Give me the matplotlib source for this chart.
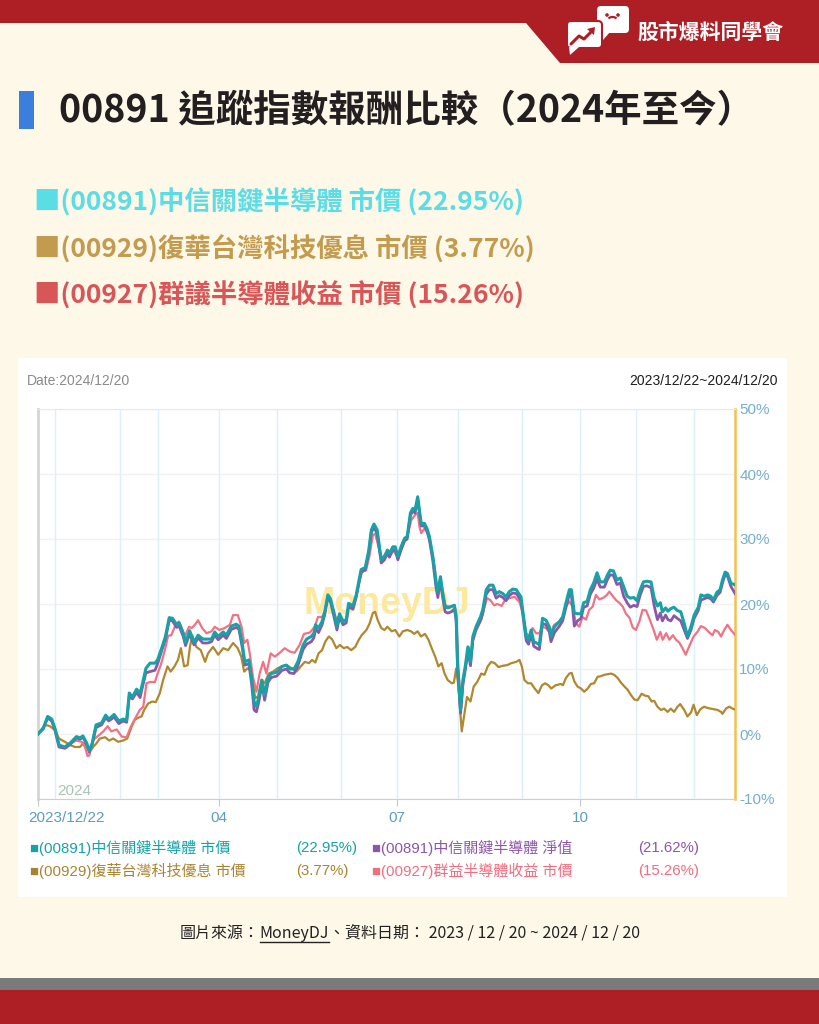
import matplotlib
matplotlib.use("Agg")
import matplotlib.pyplot as plt
from matplotlib.patches import Rectangle, Polygon, FancyBboxPatch, Circle, Arc
from matplotlib.transforms import ScaledTranslation

W, H = 819, 1024
CJK = ["Noto Sans CJK TC", "DejaVu Sans"]
LAT = ["Liberation Sans", "Noto Sans CJK TC"]

BG = "#FDF8E8"
RED = "#AD1F25"

# ---- data: (trading day index, return %) ----
teal_pts = [
    (0, 0.0), (1.8, 0.9), (3.3, 2.7), (4.7, 2.3), (5.8, 0.9), (7.2, -1.7), (9.2, -2.0), (11, -1.4),
    (13.2, -0.4), (14.4, -0.6), (15.4, -0.3), (16.7, -1.4), (17.6, -2.6), (18.6, -1.4), (19.9, 1.4),
    (21.8, 1.7), (23.2, 2.9), (24.3, 2.3), (26.1, 3.0), (27.7, 2.0), (29.2, 2.3), (30.4, 2.1),
    (31.3, 6.3), (32.4, 5.7), (33.8, 6.9), (35, 6.3), (35.7, 7.5), (37, 10.1), (38.4, 10.9),
    (40.1, 10.9), (41, 11.4), (42.4, 13.2), (43.7, 15.0), (45, 17.9), (46.1, 17.8), (47.5, 16.9),
    (48.4, 17.1), (49.8, 15.5), (50.6, 14.0), (52, 15.9), (53.5, 14.1), (54.9, 15.2), (56.5, 14.6),
    (58.2, 14.6), (59.5, 14.6), (60.6, 15.7), (61.8, 15.0), (63.5, 15.7), (64.6, 15.2), (66.3, 16.6),
    (68, 16.9), (68.9, 16.6), (70, 14.0), (70.9, 11.1), (72.3, 11.4), (73.2, 8.8), (74.1, 5.0),
    (74.9, 4.2), (75.7, 5.7), (76.8, 8.3), (77.7, 6.0), (78.9, 8.7), (80, 9.3), (81.8, 9.5),
    (83.7, 10.4), (85.2, 10.6), (86.3, 10.0), (87.8, 10.0), (89.1, 11.1), (90.9, 13.7), (92.1, 14.6),
    (93.7, 15.0), (94.6, 15.5), (95.2, 16.8), (96.2, 16.3), (97.4, 17.3), (98.3, 18.8), (99.4, 21.4),
    (100.3, 20.8), (101.4, 18.8), (102.5, 16.5), (103.4, 18.5), (104.6, 17.3), (105.7, 17.6),
    (106.5, 20.1), (108, 19.7), (109.1, 21.4), (110.3, 24.2), (110.8, 25.3), (112.2, 25.6),
    (113.4, 28.2), (114.3, 31.4), (115.2, 32.3), (116.3, 31.4), (117.7, 26.8), (118.8, 27.3),
    (119.8, 28.3), (120.5, 27.8), (121.7, 28.8), (122.5, 28.8), (123.4, 27.3), (124.5, 28.8),
    (125.7, 30.1), (126.6, 30.4), (127.7, 34.0), (128.5, 34.7), (129.3, 34.5), (130.2, 36.5),
    (130.8, 34.5), (131.4, 32.4), (132.5, 32.4), (133.4, 31.6), (134.2, 30.4), (135.4, 27.3),
    (136.5, 23.2), (137.1, 21.9), (138, 24.2), (138.8, 21.6), (139.6, 19.6), (140.5, 19.4),
    (141.7, 19.6), (142.8, 19.8), (143.4, 18.0), (143.9, 10.4), (144.9, 3.7), (145.7, 8.3),
    (146.5, 10.4), (147.4, 13.4), (148.3, 11.1), (149.1, 15.0), (150.2, 16.5), (151.7, 18.0),
    (152.5, 19.1), (153.7, 22.2), (154.8, 22.9), (156, 22.9), (157.1, 21.6), (158.2, 21.9),
    (159.4, 21.6), (160.5, 21.1), (161.6, 21.9), (162.8, 22.3), (164, 22.2), (165.6, 21.1),
    (166.5, 18.0), (167.4, 15.0), (168.2, 14.5), (169.1, 16.0), (170, 14.2), (171.4, 13.9),
    (171.9, 13.7), (173, 17.8), (174.2, 17.5), (175.3, 16.5), (175.9, 15.0), (177.1, 16.5),
    (178.8, 17.3), (179.9, 18.0), (181, 20.1), (182.2, 22.2), (182.9, 22.2), (183.9, 18.6),
    (185, 18.5), (186.2, 18.5), (187.1, 20.2), (188.3, 20.4), (189.4, 22.2), (190.5, 23.2),
    (191.7, 24.8), (192.8, 23.4), (194.2, 23.4), (195.3, 24.5), (196.2, 25.2), (197.3, 25.1),
    (198.5, 23.7), (199.7, 24.0), (200.8, 22.7), (202, 21.2), (203.1, 20.9), (204.3, 21.0),
    (205.4, 20.5), (206.5, 22.2), (207.6, 23.4), (208.8, 23.5), (210.2, 23.4), (211.3, 20.9),
    (212.4, 19.7), (213.4, 20.2), (214.1, 18.8), (215.2, 19.4), (216, 18.9), (217, 19.3),
    (218.1, 19.5), (219.2, 19.0), (220.4, 18.8), (221.6, 17.0), (222.7, 15.0), (223.9, 16.5),
    (225, 18.3), (226.4, 19.5), (227.3, 21.4), (228.4, 21.2), (229.6, 21.4), (230.7, 21.2),
    (231.6, 20.6), (232.8, 21.8), (233.9, 22.2), (234.7, 23.7), (235.6, 24.9), (236.4, 24.7),
    (237.6, 23.2), (239, 22.95),
]

purple_pts = [
    (0, 0.0), (1.8, 0.8), (3.3, 2.5), (4.7, 2.0), (5.8, 0.6), (7.2, -2.0), (9.2, -2.2), (11, -1.6),
    (13.2, -0.6), (14.4, -0.8), (15.4, -0.5), (16.7, -1.6), (17.6, -2.8), (18.6, -1.6), (19.9, 1.0),
    (21.8, 1.4), (23.2, 2.5), (24.3, 2.0), (26.1, 2.6), (27.7, 1.6), (29.2, 2.0), (30.4, 1.8),
    (31.3, 5.8), (32.4, 5.4), (33.8, 6.4), (35, 5.6), (35.7, 7.0), (37, 9.4), (38.4, 9.6),
    (40.1, 9.8), (41, 10.8), (42.4, 12.8), (43.7, 14.6), (45, 17.5), (46.1, 17.4), (47.5, 16.4),
    (48.4, 16.6), (49.8, 15.0), (50.6, 13.6), (52, 15.4), (53.5, 13.7), (54.9, 14.8), (56.5, 14.0),
    (58.2, 14.0), (59.5, 14.2), (60.6, 15.2), (61.8, 14.5), (63.5, 15.2), (64.6, 14.7), (66.3, 16.1),
    (68, 16.4), (68.9, 16.1), (70, 13.4), (70.9, 10.6), (72.3, 10.8), (73.2, 7.9), (74.1, 3.7),
    (74.9, 3.4), (75.7, 4.9), (76.8, 7.6), (77.7, 5.2), (78.9, 8.0), (80, 8.7), (81.8, 8.9),
    (83.7, 9.8), (85.2, 10.0), (86.3, 9.4), (87.8, 9.3), (89.1, 10.5), (90.9, 13.0), (92.1, 13.8),
    (93.7, 14.2), (94.6, 14.8), (95.2, 16.2), (96.2, 15.6), (97.4, 16.8), (98.3, 18.3), (99.4, 21.0),
    (100.3, 20.3), (101.4, 18.2), (102.5, 16.0), (103.4, 18.0), (104.6, 16.8), (105.7, 17.1),
    (106.5, 19.6), (108, 19.2), (109.1, 21.0), (110.3, 23.8), (110.8, 24.9), (112.2, 25.2),
    (113.4, 27.8), (114.3, 31.0), (115.2, 31.8), (116.3, 30.8), (117.7, 26.3), (118.8, 26.8),
    (119.8, 27.8), (120.5, 27.2), (121.7, 28.3), (122.5, 28.3), (123.4, 26.8), (124.5, 28.3),
    (125.7, 29.7), (126.6, 30.0), (127.7, 33.6), (128.5, 34.3), (129.3, 34.0), (130.2, 36.0),
    (130.8, 34.0), (131.4, 32.0), (132.5, 32.0), (133.4, 31.2), (134.2, 29.9), (135.4, 26.6),
    (136.5, 22.5), (137.1, 21.0), (138, 23.6), (138.8, 20.9), (139.6, 18.8), (140.5, 18.6),
    (141.7, 18.8), (142.8, 19.2), (143.4, 17.4), (143.9, 9.8), (144.9, 3.2), (145.7, 7.6),
    (146.5, 9.8), (147.4, 12.8), (148.3, 10.5), (149.1, 14.4), (150.2, 16.0), (151.7, 17.4),
    (152.5, 18.5), (153.7, 21.5), (154.8, 22.2), (156, 22.2), (157.1, 20.9), (158.2, 21.3),
    (159.4, 21.0), (160.5, 20.5), (161.6, 21.3), (162.8, 21.7), (164, 21.6), (165.6, 20.5),
    (166.5, 17.4), (167.4, 14.4), (168.2, 13.8), (169.1, 15.3), (170, 13.5), (171.4, 13.1),
    (171.9, 13.0), (173, 17.0), (174.2, 16.8), (175.3, 15.8), (175.9, 14.2), (177.1, 15.6),
    (178.8, 16.6), (179.9, 17.4), (181, 19.4), (182.2, 21.5), (182.9, 21.4), (183.9, 16.6),
    (185, 17.4), (186.2, 17.8), (187.1, 19.5), (188.3, 19.7), (189.4, 21.5), (190.5, 22.4),
    (191.7, 23.8), (192.8, 22.6), (194.2, 22.6), (195.3, 23.8), (196.2, 24.5), (197.3, 24.4),
    (198.5, 23.0), (199.7, 23.2), (200.8, 21.2), (202, 20.2), (203.1, 19.5), (204.3, 19.8),
    (205.4, 19.6), (206.5, 21.4), (207.6, 22.7), (208.8, 22.8), (210.2, 22.5), (211.3, 19.7),
    (212.4, 17.6), (213.4, 18.6), (214.1, 17.4), (215.2, 18.3), (216, 17.6), (217, 17.4),
    (218.1, 18.2), (219.2, 17.8), (220.4, 17.4), (221.6, 16.0), (222.7, 14.7), (223.9, 16.0),
    (225, 17.8), (226.4, 19.0), (227.3, 20.6), (228.4, 20.8), (229.6, 21.0), (230.7, 20.8),
    (231.6, 20.3), (232.8, 21.3), (233.9, 21.8), (234.7, 23.2), (235.6, 24.5), (236.4, 24.3),
    (237.6, 22.7), (239, 21.62),
]

pink_pts = [
    (0, 0.0), (1.8, 0.8), (3.3, 2.4), (4.7, 2.0), (5.8, 0.9), (7.5, -2.0), (9.8, -2.1), (11.5, -1.4),
    (13, -1.0), (15, -1.2), (16.1, -2.0), (17, -3.4), (17.6, -3.3), (18.9, -0.9), (20.9, -0.2),
    (22.4, 0.4), (23.9, 1.2), (25.1, 0.4), (27, 0.7), (28.7, -0.4), (30.4, -0.5), (31.8, 1.1),
    (33.2, 2.3), (34.9, 3.7), (36.1, 4.2), (37.2, 7.8), (38.4, 8.0), (40.1, 8.0), (41, 9.3),
    (42.1, 10.6), (43.5, 12.9), (44.6, 15.1), (45.7, 15.2), (46.9, 16.5), (48.3, 17.3), (49.3, 16.3),
    (50.3, 15.0), (51.8, 16.5), (52.7, 16.3), (53.8, 16.8), (54.9, 17.5), (56.3, 16.3), (57.8, 15.5),
    (59.5, 15.8), (60.6, 16.5), (62.2, 16.0), (64, 16.3), (65.8, 16.8), (66.9, 18.3), (68.5, 18.3),
    (69.8, 16.5), (70.7, 14.0), (71.8, 14.5), (72.6, 12.4), (73.7, 8.8), (74.9, 6.5), (76, 9.3),
    (77.2, 11.1), (78.3, 9.3), (79.8, 12.4), (81.2, 11.9), (82.9, 12.5), (84.6, 13.2), (86.3, 12.7),
    (88, 12.5), (89.7, 13.7), (91.2, 15.4), (93.2, 15.6), (94.9, 16.5), (96, 18.0), (97.4, 18.0),
    (98.3, 18.8), (99.4, 21.1), (100.3, 20.3), (101.3, 19.1), (102.3, 17.6), (103.4, 18.3),
    (104.6, 17.5), (105.7, 17.5), (106.5, 19.8), (108, 19.7), (109.1, 21.1), (110.3, 23.7),
    (111.4, 25.3), (112.5, 25.2), (113.7, 27.5), (114.8, 30.6), (115.6, 30.8), (116.5, 29.3),
    (117.7, 27.0), (118.8, 27.5), (120, 27.8), (121.7, 28.3), (123.4, 27.2), (125.1, 29.6),
    (126.6, 30.4), (128, 32.9), (129.3, 33.7), (130.2, 34.0), (130.8, 31.9), (131.4, 30.9),
    (132.5, 31.6), (133.6, 30.9), (134.8, 28.8), (136, 25.7), (137.1, 21.9), (138, 23.7),
    (138.8, 21.9), (139.6, 19.8), (141.1, 19.6), (142.8, 19.8), (143.4, 18.5), (144.1, 10.4),
    (145.1, 4.2), (145.8, 8.3), (146.7, 10.4), (147.6, 13.4), (148.5, 11.9), (149.4, 15.2),
    (150.5, 16.8), (151.9, 17.5), (152.8, 19.1), (154, 20.9), (155.1, 20.6), (156.4, 19.8),
    (157.5, 20.0), (159, 19.7), (160.1, 20.6), (161.6, 20.9), (163.4, 21.1), (165.1, 20.3),
    (166.3, 18.5), (167.4, 15.5), (168.5, 15.0), (169.6, 16.3), (170.8, 15.5), (171.9, 15.5),
    (173, 16.5), (174.2, 16.3), (175.6, 15.5), (177, 16.8), (178.8, 17.3), (179.9, 18.0),
    (181, 19.6), (182.2, 20.4), (183.3, 19.6), (184.5, 17.0), (185.6, 16.5), (186.7, 18.0),
    (187.9, 17.6), (189, 19.1), (190.2, 19.6), (191.3, 21.4), (192.5, 20.7), (194, 21.0),
    (195.1, 21.4), (195.9, 21.9), (197.1, 21.2), (198.2, 20.6), (199.3, 20.2), (200.5, 19.6),
    (201.6, 18.5), (202.8, 17.9), (203.9, 16.4), (205, 16.0), (206.2, 17.3), (207.3, 19.1),
    (208.5, 19.0), (209.6, 17.8), (211.1, 16.0), (212.2, 14.5), (213.4, 15.7), (214.2, 14.5),
    (215.4, 15.5), (216.5, 14.5), (217.7, 15.2), (218.8, 14.5), (220, 14.0), (221, 13.2),
    (222.1, 12.2), (223.3, 13.5), (224.8, 15.0), (226.1, 15.7), (227.3, 16.6), (228.7, 16.3),
    (230.2, 15.6), (231.3, 15.2), (232.1, 16.0), (233.3, 15.7), (234.2, 15.0), (235.3, 16.0),
    (236.4, 16.8), (237.6, 16.0), (239, 15.26),
]

gold_pts = [
    (0, 0.0), (2.4, 1.4), (4.1, 1.2), (5.8, 0.6), (7.2, -0.7), (9.2, -1.2), (11, -1.7), (12.7, -2.0),
    (14.4, -2.0), (15.5, -1.4), (16.7, -2.0), (17.8, -2.7), (18.9, -2.0), (20.1, -1.4), (21.2, -0.7),
    (23, -0.5), (24.4, -1.0), (25.8, -0.7), (27.5, -1.2), (29.2, -1.0), (30.6, -0.7), (32.1, 1.1),
    (33.2, 2.2), (34.4, 2.5), (35.5, 2.7), (36.4, 3.7), (37.8, 4.7), (39.2, 5.0), (40.4, 4.9),
    (41.8, 6.3), (42.9, 8.3), (44.4, 10.4), (45.5, 9.6), (46.8, 10.4), (48, 11.4), (49, 13.2),
    (50.1, 10.4), (51.3, 10.6), (52.1, 13.4), (52.9, 15.2), (54.3, 13.4), (55.8, 12.9), (57.3, 11.1),
    (58.3, 12.4), (60, 13.4), (61.8, 12.2), (63.5, 13.2), (65.2, 12.9), (66.9, 14.0), (68.5, 13.2),
    (69.7, 11.9), (70.7, 9.6), (71.8, 10.1), (73, 9.8), (73.7, 7.8), (74.5, 5.5), (75.5, 5.8),
    (76.6, 8.3), (77.7, 7.8), (79.1, 9.3), (80.6, 9.6), (82.1, 10.1), (83.5, 10.4), (85.2, 10.6),
    (87.1, 10.1), (88.6, 9.6), (90.1, 10.4), (91.5, 11.1), (92.9, 10.9), (94, 11.4), (95.1, 11.0),
    (96.2, 12.4), (97.4, 12.9), (98.5, 14.2), (99.7, 15.0), (100.8, 14.6), (102.3, 13.2),
    (103.5, 13.7), (104.9, 13.2), (106, 13.4), (107.4, 12.9), (108.8, 13.4), (110, 14.5),
    (111, 15.2), (112.6, 16.0), (113.7, 17.0), (114.8, 18.6), (115.6, 18.8), (116.5, 17.5),
    (117.7, 16.3), (118.8, 16.0), (119.8, 16.5), (121.3, 15.8), (122.5, 16.0), (123.9, 15.0),
    (125.1, 15.8), (126.6, 16.0), (127.9, 15.8), (129, 15.4), (130.2, 15.8), (131.3, 15.0),
    (132.7, 15.4), (133.9, 14.5), (135, 13.2), (136.2, 11.9), (137.3, 10.4), (138.4, 10.9),
    (139.4, 9.3), (140.5, 8.3), (141.9, 7.8), (142.6, 7.9), (143.4, 10.1), (144.2, 7.2),
    (145.3, 0.4), (146.2, 3.1), (147.1, 5.7), (148.3, 5.0), (149.4, 7.3), (150.6, 8.0), (152, 9.3),
    (153.1, 9.1), (154.2, 10.4), (155.4, 11.1), (156.6, 10.9), (157.9, 10.3), (159.4, 10.5),
    (160.9, 10.6), (162.3, 10.9), (164, 11.1), (165.1, 11.4), (165.9, 10.4), (166.8, 8.3),
    (168, 7.8), (169.1, 7.8), (170.3, 7.0), (171.6, 6.3), (172.8, 7.5), (173.9, 7.8), (175, 7.5),
    (176, 7.0), (177.5, 7.5), (179.3, 7.7), (180, 7.5), (181, 8.6), (182.2, 9.3), (183, 9.4),
    (183.9, 8.1), (185, 7.3), (186.2, 7.0), (187.3, 6.5), (188.5, 7.0), (189.6, 7.7), (190.7, 7.8),
    (191.9, 8.8), (193, 8.9), (194.2, 9.1), (195.3, 9.2), (196.5, 9.3), (197.6, 9.1), (198.8, 8.6),
    (199.9, 7.9), (201.1, 7.3), (202.2, 6.8), (203.3, 6.0), (204.5, 5.3), (205.6, 5.2), (207, 6.2),
    (208.1, 5.9), (209.3, 5.8), (210.4, 5.0), (211.3, 5.1), (212.4, 4.2), (213.6, 3.7), (214.7, 3.9),
    (215.9, 3.4), (217, 3.9), (218.1, 3.4), (219.3, 4.2), (220.2, 4.6), (221.6, 3.7), (222.7, 2.7),
    (223.9, 3.3), (224.8, 4.5), (225.9, 2.9), (227.1, 3.8), (228.4, 4.2), (229.6, 4.0), (230.7, 3.9),
    (231.9, 3.8), (233, 3.7), (234.2, 3.4), (234.7, 3.1), (235.9, 3.9), (237, 4.2), (238.2, 3.9),
    (239, 3.77),
]

month_starts = [6, 28, 41, 62, 82, 104, 123, 144, 166, 186, 205, 225]
tick_days = [0, 62, 123, 186]
tick_labels = ["2023/12/22", "04", "07", "10"]
y_ticks = [-10, 0, 10, 20, 30, 40, 50]

headline_items = [
    ("■(00891)中信關鍵半導體 市價 (22.95%)", "#5BDDE6"),
    ("■(00929)復華台灣科技優息 市價 (3.77%)", "#C39B4E"),
    ("■(00927)群議半導體收益 市價 (15.26%)", "#D85658"),
]

legend_items = [
    ("■(00891)中信關鍵半導體 市價", "(22.95%)", "#16A3A6"),
    ("■(00891)中信關鍵半導體 淨值", "(21.62%)", "#8B57AA"),
    ("■(00929)復華台灣科技優息 市價", "(3.77%)", "#A98430"),
    ("■(00927)群益半導體收益 市價", "(15.26%)", "#F06E80"),
]

series_styles = [
    (gold_pts, "#B0882F", 1.6),
    (pink_pts, "#F07283", 1.6),
    (purple_pts, "#8B57AA", 2.0),
    (teal_pts, "#17A2A6", 2.2),
]


def draw_frame(fig, bg):
    # top red ribbon with the logo block on the right
    bg.add_patch(Polygon([(0, 0), (W, 0), (W, 63), (560, 63), (526, 23), (0, 23)],
                         closed=True, fc=RED, lw=0))
    # logo: two speech bubbles
    bg.add_patch(FancyBboxPatch((597, 6), 32, 27, boxstyle="round,pad=0,rounding_size=4",
                                fc="white", ec="none"))
    bg.add_patch(Polygon([(602, 32), (610, 32), (603, 40)], closed=True, fc="white", lw=0))
    bg.add_patch(Circle((607, 15), 1.8, fc=RED, lw=0))
    bg.add_patch(Circle((618, 15), 1.8, fc=RED, lw=0))
    bg.add_patch(Arc((612.5, 20), 9, 6, theta1=200, theta2=340, color=RED, lw=1.6))
    bg.add_patch(FancyBboxPatch((567, 21), 35, 27, boxstyle="round,pad=0,rounding_size=4",
                                fc="white", ec=RED, lw=1.5))
    bg.add_patch(Polygon([(569, 47), (579, 47), (570, 55)], closed=True, fc="white", lw=0))
    bg.plot([571, 579, 584, 592], [44, 36, 39, 31], color=RED, lw=2.2, solid_capstyle="round")
    bg.add_patch(Polygon([(595, 27), (587, 29), (594, 35)], closed=True, fc=RED, lw=0))
    bg.text(637, 32, "股市爆料同學會", color="white", fontsize=15, fontweight="bold",
            family=CJK, ha="left", va="center")

    # title
    bg.add_patch(Rectangle((19, 91), 15, 38, fc="#3B7EDC", lw=0))
    bg.text(59, 111, "00891 追蹤指數報酬比較（2024年至今）", color="#231F20", fontsize=27,
            fontweight="bold", family=CJK, ha="left", va="center")

    for k, (txt, col) in enumerate(headline_items):
        bg.text(34, 203 + k * 46.5, txt, color=col, fontsize=19, fontweight="bold",
                family=CJK, ha="left", va="center")

    # white chart card
    bg.add_patch(Rectangle((18, 358), 769, 539, fc="white", lw=0))
    bg.text(27, 381, "Date:2024/12/20", color="#8A8A8A", fontsize=10, family=LAT,
            ha="left", va="center")
    bg.text(778, 381, "2023/12/22~2024/12/20", color="#1E1E1E", fontsize=10, family=LAT,
            ha="right", va="center")

    # legend under the chart
    cols = [30, 372]
    for k, (name, pct, col) in enumerate(legend_items):
        x0 = cols[k % 2]
        y0 = 848 + (k // 2) * 23
        bg.text(x0, y0, name, color=col, fontsize=10.8, family=LAT, ha="left", va="center")
        bg.text(x0 + 266, y0, pct, color=col, fontsize=10.8, family=LAT, ha="left", va="center")

    # footer source line, "MoneyDJ" underlined
    parts = ["圖片來源：", "MoneyDJ", "、資料日期： 2023 / 12 / 20 ~ 2024 / 12 / 20"]
    renderer = fig.canvas.get_renderer()
    texts = []
    widths = []
    for p in parts:
        t = bg.text(0, 933, p, color="#222222", fontsize=11.5, family=CJK, ha="left", va="center")
        bb = t.get_window_extent(renderer)
        texts.append(t)
        widths.append(bb.width)
    x = 410 - sum(widths) / 2
    for t, w in zip(texts, widths):
        t.set_x(x)
        if t.get_text() == "MoneyDJ":
            bg.plot([x, x + w], [942, 942], color="#222222", lw=1)
        x += w

    # bottom bands
    bg.add_patch(Rectangle((0, 978), W, 12, fc="#7A7A7A", lw=0))
    bg.add_patch(Rectangle((0, 990), W, 34, fc=RED, lw=0))


def draw_chart(fig):
    ax = fig.add_axes([38 / W, 1 - 799 / H, 697 / W, 390 / H])
    ax.set_facecolor("white")
    ax.set_xlim(0, 239)
    ax.set_ylim(-10, 50)

    for yv in y_ticks:
        ax.axhline(yv, color="#F1F1F1", lw=1, zorder=0)
    for d in month_starts:
        ax.axvline(d, color="#DDEFF8", lw=1, zorder=0)

    ax.text(0.5, 0.5, "MoneyDJ", transform=ax.transAxes, color="#FCE9A0", fontsize=27,
            fontweight="bold", family=LAT, ha="center", va="center", zorder=1)
    ax.text(6.5, -8.8, "2024", color="#A9C4B4", fontsize=11, family=LAT,
            ha="left", va="center", zorder=1)

    for pts, col, lw in series_styles:
        xs = [p[0] for p in pts]
        ys = [p[1] for p in pts]
        ax.plot(xs, ys, color=col, lw=lw, zorder=3, solid_joinstyle="round")

    ax.spines["left"].set_color("#D5D5D5")
    ax.spines["left"].set_linewidth(2)
    ax.spines["top"].set_color("#E8E8E8")
    ax.spines["bottom"].set_color("#CFCFCF")
    ax.spines["right"].set_color("#F2C14E")
    ax.spines["right"].set_linewidth(1.8)

    ax.yaxis.tick_right()
    ax.set_yticks(y_ticks)
    ax.set_yticklabels([f"{v}%" for v in y_ticks], family=LAT)
    ax.tick_params(axis="y", length=0, pad=3, labelcolor="#74AFCB", labelsize=11)

    ax.set_xticks(tick_days)
    ax.set_xticklabels(tick_labels, family=LAT)
    ax.tick_params(axis="x", length=5, color="#C8C8C8", labelcolor="#5E9CC2",
                   labelsize=11, pad=4)
    first = ax.get_xticklabels()[0]
    first.set_ha("left")
    first.set_transform(first.get_transform() + ScaledTranslation(-0.1, 0, fig.dpi_scale_trans))
    return ax


def main():
    fig = plt.figure(figsize=(W / 100, H / 100), dpi=100)
    fig.patch.set_facecolor(BG)
    bg = fig.add_axes([0, 0, 1, 1])
    bg.set_xlim(0, W)
    bg.set_ylim(H, 0)
    bg.axis("off")

    draw_frame(fig, bg)
    draw_chart(fig)

    fig.savefig("out.png", dpi=100, facecolor=BG)


if __name__ == "__main__":
    main()
